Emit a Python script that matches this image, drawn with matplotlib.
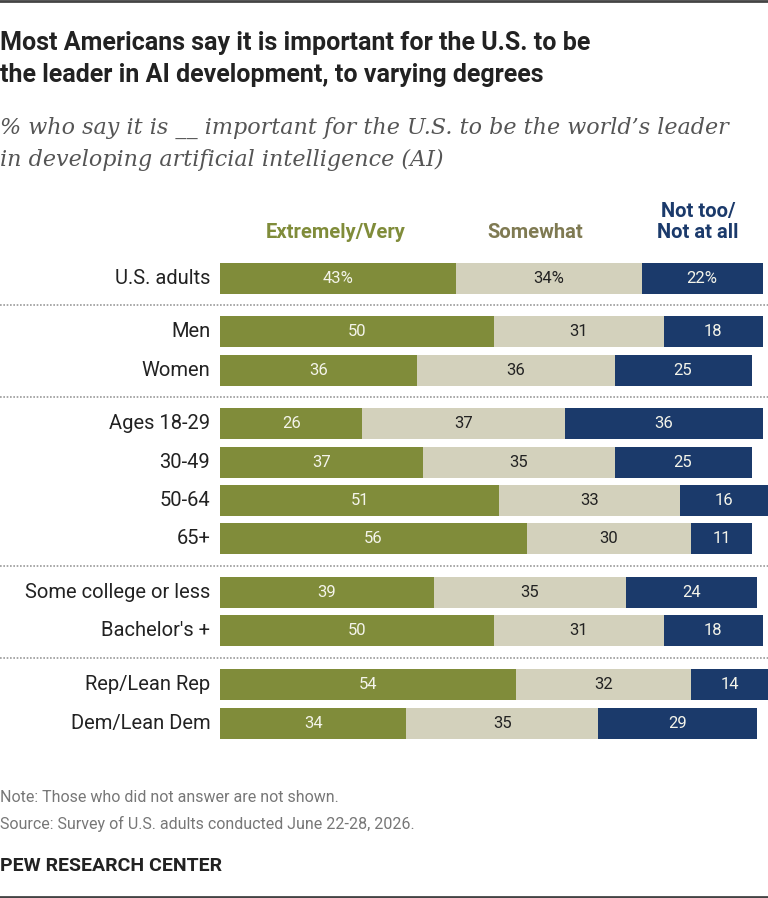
import matplotlib
matplotlib.use("Agg")
import matplotlib.pyplot as plt
import matplotlib.transforms as mtransforms

plt.rcParams['font.family'] = ['Roboto', 'DejaVu Sans']

# data
groups = ["U.S. adults", "Men", "Women", "Ages 18-29", "30-49", "50-64", "65+",
          "Some college or less", "Bachelor's +", "Rep/Lean Rep", "Dem/Lean Dem"]
group_id = [0, 1, 1, 2, 2, 2, 2, 3, 3, 4, 4]
very = [43, 50, 36, 26, 37, 51, 56, 39, 50, 54, 34]
somewhat = [34, 31, 36, 37, 35, 33, 30, 35, 31, 32, 35]
not_too = [22, 18, 25, 36, 25, 16, 11, 24, 18, 14, 29]
series_names = ["Extremely/Very", "Somewhat", "Not too/\nNot at all"]

green = "#808c3a"
beige = "#d3d1bc"
navy = "#1b3a6b"
dark = "#222222"

W, H = 768, 898
fig = plt.figure(figsize=(W / 100, H / 100), dpi=100)

ypos = [i + 0.4 * g for i, g in enumerate(group_id)]
pitch = (723 - 278) / ypos[-1]
top_px = 278 - 0.5 * pitch
bot_px = 723 + 0.5 * pitch
left_px, unit = 220, 5.48
ax = fig.add_axes([left_px / W, 1 - bot_px / H, 100 * unit / W, (bot_px - top_px) / H])
ax.set_xlim(0, 100)
ax.set_ylim(ypos[-1] + 0.5, -0.5)
ax.axis('off')

h = 31 / pitch
left2 = [a + b for a, b in zip(very, somewhat)]
ax.barh(ypos, very, height=h, color=green)
ax.barh(ypos, somewhat, left=very, height=h, color=beige)
ax.barh(ypos, not_too, left=left2, height=h, color=navy)

for i, y in enumerate(ypos):
    suf = "%" if i == 0 else ""
    ax.text(very[i] / 2, y, f"{very[i]}{suf}", ha='center', va='center',
            fontsize=12, color='#f4f4ea')
    ax.text(very[i] + somewhat[i] / 2, y, f"{somewhat[i]}{suf}", ha='center', va='center',
            fontsize=12, color=dark)
    ax.text(left2[i] + not_too[i] / 2, y, f"{not_too[i]}{suf}", ha='center', va='center',
            fontsize=12, color='#f4f4ea')
    ax.text(-1.8, y, groups[i], ha='right', va='center', fontsize=14.5, color=dark)

# dotted separators between groups
trans = mtransforms.blended_transform_factory(fig.transFigure, ax.transData)
for i in range(1, len(ypos)):
    if group_id[i] != group_id[i - 1]:
        ym = (ypos[i] + ypos[i - 1]) / 2
        ax.plot([0, 1], [ym, ym], transform=trans, clip_on=False,
                color='#9a9a9a', lw=1.2, linestyle=(0, (1, 1)))

# column headers
hdr_y = 1 - 233 / H
fig.text(336 / W, hdr_y, series_names[0], ha='center', va='center', fontsize=14.5,
         fontweight='bold', color=green)
fig.text(535 / W, hdr_y, series_names[1], ha='center', va='center', fontsize=14.5,
         fontweight='bold', color='#7f7a52')
fig.text(698 / W, 1 - 222 / H, series_names[2], ha='center', va='center', fontsize=14.5,
         fontweight='bold', color=navy, linespacing=1.2)

# titles
title_kw = dict(ha='left', va='center', fontsize=18, fontweight='bold', color=dark)
fig.text(0, 1 - 43 / H, "Most Americans say it is important for the U.S. to be", **title_kw)
fig.text(0, 1 - 75 / H, "the leader in AI development, to varying degrees", **title_kw)
sub = dict(ha='left', va='center', fontsize=16, style='italic', color='#555555',
           family=['DejaVu Serif'])
fig.text(0, 1 - 128 / H, "% who say it is __ important for the U.S. to be the world\u2019s leader", **sub)
fig.text(0, 1 - 160 / H, "in developing artificial intelligence (AI)", **sub)

fig.text(0, 1 - 797 / H, "Note: Those who did not answer are not shown.",
         ha='left', va='center', fontsize=11.5, color='#777777')
fig.text(0, 1 - 824 / H, "Source: Survey of U.S. adults conducted June 22-28, 2026.",
         ha='left', va='center', fontsize=11.5, color='#777777')
fig.text(0, 1 - 866 / H, "PEW RESEARCH CENTER", ha='left', va='center', fontsize=14,
         fontweight='bold', color=dark)

# top/bottom rules
fig.add_artist(plt.Line2D([0, 1], [1 - 1 / H, 1 - 1 / H], transform=fig.transFigure,
                          color='#444444', lw=2))
fig.add_artist(plt.Line2D([0, 1], [1 / H, 1 / H], transform=fig.transFigure,
                          color='#444444', lw=2))

fig.savefig("out.png", dpi=100)
